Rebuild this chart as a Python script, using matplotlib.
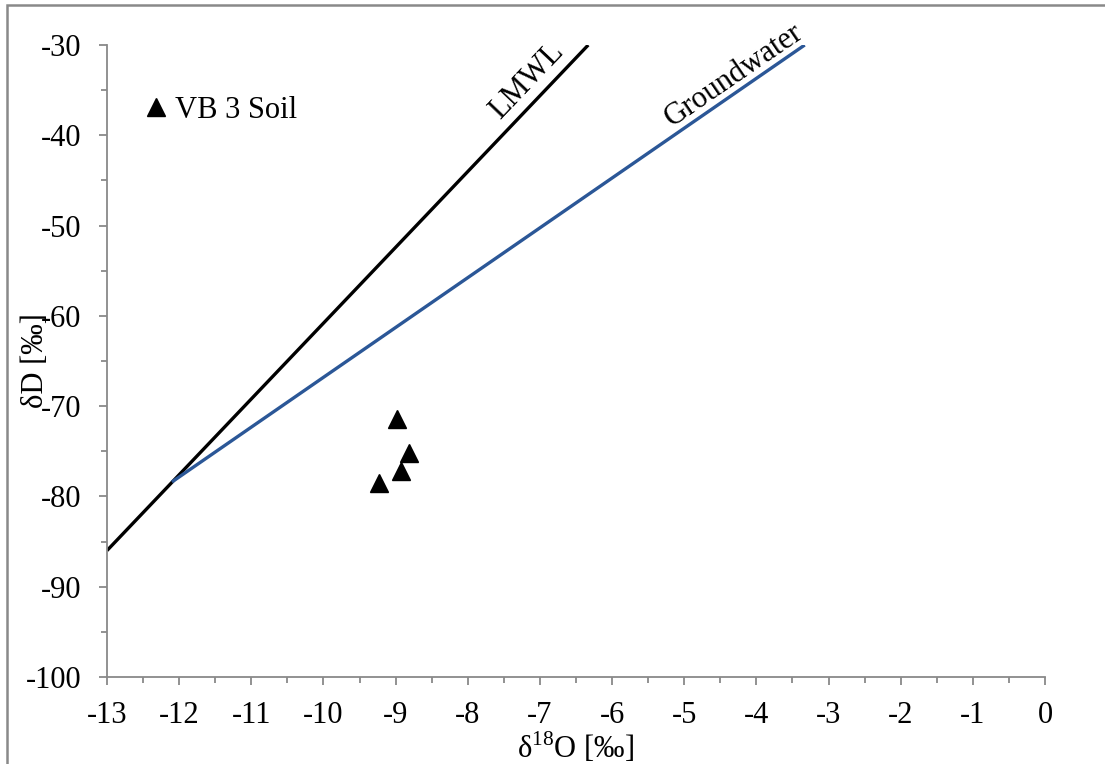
import matplotlib
matplotlib.use('Agg')
import matplotlib.pyplot as plt
from matplotlib.patches import Rectangle
from matplotlib.ticker import MultipleLocator

plt.rcParams['font.family'] = ['Liberation Serif', 'DejaVu Serif']
plt.rcParams['mathtext.fontset'] = 'custom'
plt.rcParams['mathtext.rm'] = 'Liberation Serif'
plt.rcParams['axes.unicode_minus'] = False

# soil water samples
soil_o18 = [-8.98, -8.81, -8.93, -9.23]
soil_d = [-71.4, -75.2, -77.2, -78.5]

# meteoric water line end points
lmwl_o18 = [-13.0, -6.33]
lmwl_d = [-86.0, -30.0]

# groundwater line end points
gw_o18 = [-12.1, -3.33]
gw_d = [-78.4, -30.0]

grey = '#898989'
blue = '#2b5797'
fs = 22

fig = plt.figure(figsize=(11.05, 7.64), dpi=100)
ax = fig.add_axes([0.0968, 0.1139, 0.8489, 0.8272])

ax.plot(lmwl_o18, lmwl_d, color='black', linewidth=2.4, solid_capstyle='butt')
ax.plot(gw_o18, gw_d, color=blue, linewidth=2.4, solid_capstyle='butt')
ax.plot(soil_o18, soil_d, linestyle='none', marker='^', markersize=13,
        color='black', label='VB 3 Soil')

ax.text(-7.18, -34.0, 'LMWL', rotation=46.4, ha='center', va='center', fontsize=fs)
ax.text(-4.31, -33.4, 'Groundwater', rotation=34.4, ha='center', va='center', fontsize=fs)

ax.set_xlim(-13, 0)
ax.set_ylim(-100, -30)
ax.xaxis.set_major_locator(MultipleLocator(1))
ax.xaxis.set_minor_locator(MultipleLocator(0.5))
ax.yaxis.set_major_locator(MultipleLocator(10))
ax.yaxis.set_minor_locator(MultipleLocator(5))

for s in ['top', 'right']:
    ax.spines[s].set_visible(False)
for s in ['left', 'bottom']:
    ax.spines[s].set_color(grey)
    ax.spines[s].set_linewidth(1.3)

ax.tick_params(which='major', direction='out', length=5.5, width=1.3, color=grey,
               labelsize=fs)
ax.tick_params(which='minor', direction='out', length=4.5, width=1.3, color=grey)
ax.tick_params(axis='x', which='major', pad=12)
ax.tick_params(axis='y', which='major', pad=13)

ax.set_xlabel(r'δ$^{\mathrm{18}}$O [‰]', fontsize=fs)
ax.set_ylabel('δD [‰]', fontsize=fs)
ax.xaxis.set_label_coords(0.5, -0.085)
ax.yaxis.set_label_coords(-0.061, 0.5)

leg = ax.legend(loc='center left', bbox_to_anchor=(0.043, 0.897), frameon=False,
                fontsize=fs, handletextpad=0.3, handlelength=0.6, borderpad=0,
                borderaxespad=0)

# thin grey frame around the whole figure
fig.patches.append(Rectangle((7 / 1105, -0.1), 1.2, 759 / 764 + 0.1,
                             transform=fig.transFigure, fill=False,
                             edgecolor=grey, linewidth=1.8))

plt.savefig('out.png', dpi=100)
